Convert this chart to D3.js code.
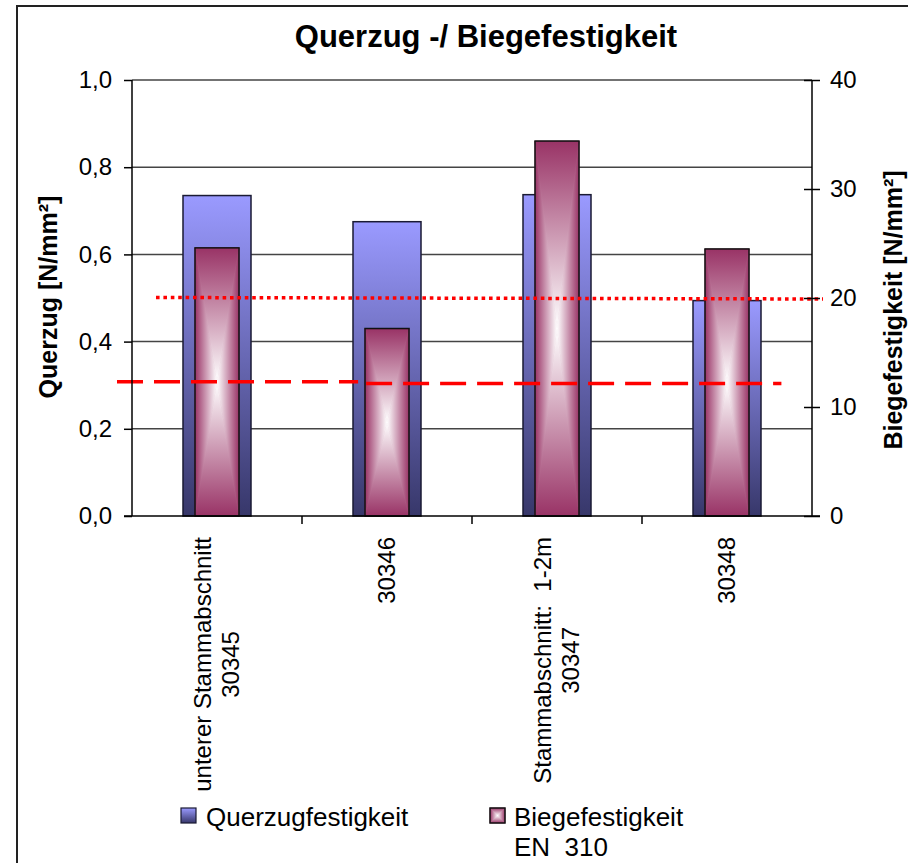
<!DOCTYPE html>
<html>
<head>
<meta charset="utf-8">
<script src="https://cdn.jsdelivr.net/npm/d3@7"></script>
<style>
  html, body { margin: 0; padding: 0; background: #fff; }
  svg { display: block; font-family: "Liberation Sans", Arial, sans-serif; }
  text { white-space: pre; }
</style>
</head>
<body>
<svg id="chart" width="908" height="863"></svg>
<script>
// ---------- data ----------
const categories = [
  ["unterer Stammabschnitt", "30345"],
  ["30346"],
  ["Stammabschnitt:  1-2m", "30347"],
  ["30348"]
];
const querzugValues = [0.735, 0.675, 0.737, 0.494];      // left axis, N/mm²
const biegeValues   = [24.6, 17.2, 34.4, 24.5];          // right axis, N/mm²
const leftTicks  = [0, 0.2, 0.4, 0.6, 0.8, 1.0];
const rightTicks = [0, 10, 20, 30, 40];
const biegeLimit   = 20;              // dotted line (right axis)
const querzugLimit = [0.308, 0.304];  // dashed line (left axis), two drawn pieces
const titleText = "Querzug -/ Biegefestigkeit";
const leftTitle = "Querzug [N/mm²]";
const rightTitle = "Biegefestigkeit [N/mm²]";
const legendLabels = [["Querzugfestigkeit"], ["Biegefestigkeit", "EN  310"]];

// ---------- setup ----------
const svg = d3.select("#chart");
const plot = { left: 132, right: 812, top: 80, bottom: 516 };
const fmt = d => d3.format(".1f")(d).replace(".", ",");

const x = d3.scaleBand().domain(d3.range(categories.length)).range([plot.left, plot.right]);
const yL = d3.scaleLinear().domain([0, 1]).range([plot.bottom, plot.top]);
const yR = d3.scaleLinear().domain([0, 40]).range([plot.bottom, plot.top]);

const defs = svg.append("defs");
const blueGrad = defs.append("linearGradient").attr("id", "blueGrad")
  .attr("x1", 0).attr("y1", 0).attr("x2", 0).attr("y2", 1);
blueGrad.append("stop").attr("offset", 0).attr("stop-color", "#9a9aff");
blueGrad.append("stop").attr("offset", 1).attr("stop-color", "#37376a");

const MAG = "#993366";
function lg(id, x1, y1, x2, y2) {
  const g = defs.append("linearGradient").attr("id", id)
    .attr("x1", x1).attr("y1", y1).attr("x2", x2).attr("y2", y2);
  g.append("stop").attr("offset", 0).attr("stop-color", MAG);
  g.append("stop").attr("offset", 1).attr("stop-color", "#ffffff");
}
lg("gTop", 0, 0, 0, 1);
lg("gBot", 0, 1, 0, 0);
lg("gLeft", 0, 0, 1, 0);
lg("gRight", 1, 0, 0, 0);

// rectangular "from center" gradient built from 4 triangles
function centerGradRect(g, x0, y0, x1, y1) {
  const cx = (x0 + x1) / 2, cy = (y0 + y1) / 2;
  g.append("rect").attr("x", x0).attr("y", y0).attr("width", x1 - x0).attr("height", y1 - y0)
    .attr("fill", "#c27a9c");
  const tris = [
    [[x0, y0], [x1, y0], [cx, cy], "gTop"],
    [[x0, y1], [x1, y1], [cx, cy], "gBot"],
    [[x0, y0], [x0, y1], [cx, cy], "gLeft"],
    [[x1, y0], [x1, y1], [cx, cy], "gRight"]
  ];
  tris.forEach(t => {
    g.append("path")
      .attr("d", d3.line()([t[0], t[1], t[2]]) + "Z")
      .attr("fill", `url(#${t[3]})`)
      .attr("stroke", `url(#${t[3]})`).attr("stroke-width", 0.6);
  });
  g.append("rect").attr("x", x0).attr("y", y0).attr("width", x1 - x0).attr("height", y1 - y0)
    .attr("fill", "none").attr("stroke", "#111").attr("stroke-width", 1.5);
}

// ---------- frame ----------
svg.append("rect").attr("x", 17).attr("y", 6).attr("width", 920).attr("height", 900)
  .attr("fill", "none").attr("stroke", "#222").attr("stroke-width", 2);

// ---------- title ----------
svg.append("text").attr("x", 486).attr("y", 47).attr("text-anchor", "middle")
  .attr("font-size", 31).attr("font-weight", "bold").text(titleText);

// ---------- gridlines ----------
svg.append("g").selectAll("line").data(leftTicks.filter(d => d > 0)).join("line")
  .attr("x1", plot.left).attr("x2", plot.right)
  .attr("y1", d => yL(d)).attr("y2", d => yL(d))
  .attr("stroke", "#444").attr("stroke-width", 1.5);

// ---------- bars ----------
const blueW = x.bandwidth() * 0.4;
const redW = 44;
const barsG = svg.append("g");
querzugValues.forEach((v, i) => {
  const cx = x(i) + x.bandwidth() / 2;
  barsG.append("rect")
    .attr("x", cx - blueW / 2).attr("y", yL(v))
    .attr("width", blueW).attr("height", yL(0) - yL(v))
    .attr("fill", "url(#blueGrad)").attr("stroke", "#1a1a33").attr("stroke-width", 1.5);
});
biegeValues.forEach((v, i) => {
  const cx = x(i) + x.bandwidth() / 2;
  centerGradRect(barsG.append("g"), cx - redW / 2, yR(v), cx + redW / 2, yR(0));
});

// ---------- limit lines ----------
svg.append("line")
  .attr("x1", plot.left + 24).attr("x2", plot.right + 11)
  .attr("y1", yR(biegeLimit) - 0.5).attr("y2", yR(biegeLimit) + 1)
  .attr("stroke", "#ff0000").attr("stroke-width", 3.5).attr("stroke-dasharray", "3.6,3.8");
const mid = x(1) + x.bandwidth() * 0.33;
svg.append("line")
  .attr("x1", plot.left - 15).attr("x2", mid)
  .attr("y1", yL(querzugLimit[0])).attr("y2", yL(querzugLimit[0]))
  .attr("stroke", "#ff0000").attr("stroke-width", 3.5).attr("stroke-dasharray", "26,11");
svg.append("line")
  .attr("x1", mid + 8).attr("x2", x(3) + x.bandwidth() * 0.82)
  .attr("y1", yL(querzugLimit[1])).attr("y2", yL(querzugLimit[1]))
  .attr("stroke", "#ff0000").attr("stroke-width", 3.5).attr("stroke-dasharray", "26,11");

// ---------- axes ----------
const axL = svg.append("g").attr("transform", `translate(${plot.left},0)`)
  .call(d3.axisLeft(yL).tickValues(leftTicks).tickFormat(fmt).tickSize(8).tickPadding(12));
const axR = svg.append("g").attr("transform", `translate(${plot.right},0)`)
  .call(d3.axisRight(yR).tickValues(rightTicks).tickFormat(d3.format("d")).tickSize(8).tickPadding(10));
axR.selectAll(".tick line").attr("x1", -8);
const axB = svg.append("g").attr("transform", `translate(0,${plot.bottom})`)
  .call(d3.axisBottom(x).tickValues([]).tickSizeOuter(0));
svg.append("g").selectAll("line").data(d3.range(1, categories.length)).join("line")
  .attr("x1", d => x(d)).attr("x2", d => x(d))
  .attr("y1", plot.bottom).attr("y2", plot.bottom + 8)
  .attr("stroke", "#000").attr("stroke-width", 1.5);
[axL, axR, axB].forEach(a => {
  a.selectAll("path").attr("stroke", "#000").attr("stroke-width", 1.5);
  a.selectAll(".tick line").attr("stroke", "#000").attr("stroke-width", 1.5);
  a.selectAll("text").attr("font-size", 24).attr("fill", "#000")
    .attr("font-family", '"Liberation Sans", Arial, sans-serif');
});
axL.select(".domain").attr("d", `M0,${plot.top}V${plot.bottom}`);
axR.select(".domain").attr("d", `M0,${plot.top}V${plot.bottom}`);
axB.select(".domain").attr("d", `M${plot.left - 8},0H${plot.right + 8}`);

// ---------- category labels ----------
categories.forEach((lines, i) => {
  const cx = x(i) + x.bandwidth() / 2;
  const g = svg.append("g").attr("transform", `translate(${cx},537) rotate(-90)`);
  const texts = lines.map((ln, j) => g.append("text")
    .attr("font-size", 24).attr("text-anchor", "middle")
    .attr("y", 8 + (j - (lines.length - 1) / 2) * 28).text(ln));
  const maxLen = d3.max(texts, t => t.node().getComputedTextLength());
  texts.forEach(t => t.attr("x", -maxLen / 2));
});

// ---------- axis titles ----------
svg.append("text").attr("transform", `translate(57,297) rotate(-90)`)
  .attr("text-anchor", "middle").attr("font-size", 25).attr("font-weight", "bold").text(leftTitle);
svg.append("text").attr("transform", `translate(902,310) rotate(-90)`)
  .attr("text-anchor", "middle").attr("font-size", 25).attr("font-weight", "bold").text(rightTitle);

// ---------- legend ----------
const leg = svg.append("g");
leg.append("rect").attr("x", 181).attr("y", 808).attr("width", 15).attr("height", 15)
  .attr("fill", "url(#blueGrad)").attr("stroke", "#1a1a33").attr("stroke-width", 1.2);
centerGradRect(leg.append("g"), 490, 808, 505, 823);
const legX = [206, 514];
legendLabels.forEach((lines, i) => {
  lines.forEach((ln, j) => {
    leg.append("text").attr("x", legX[i]).attr("y", 826 + j * 30)
      .attr("font-size", 26).text(ln);
  });
});
</script>
</body>
</html>
